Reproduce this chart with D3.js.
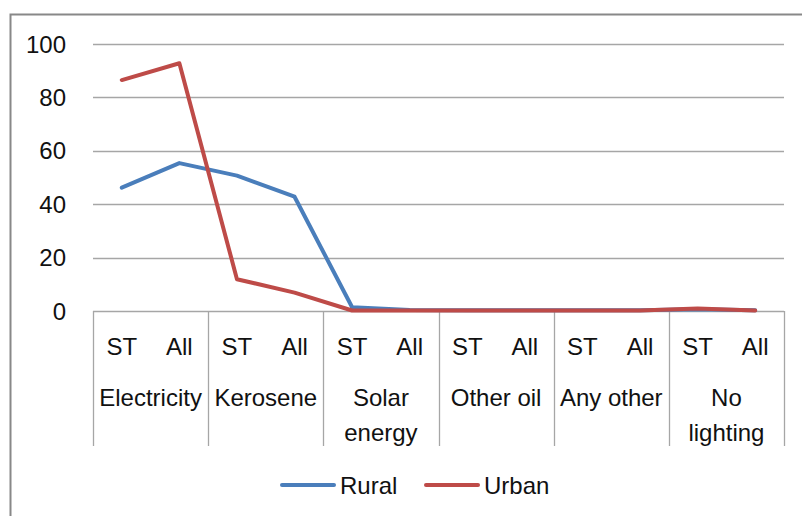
<!DOCTYPE html>
<html>
<head>
<meta charset="utf-8">
<script src="https://cdn.jsdelivr.net/npm/d3@7"></script>
<style>
  html, body { margin: 0; padding: 0; background: #fff; }
  svg text { font-family: "Liberation Sans", Arial, sans-serif; fill: #111; }
</style>
</head>
<body>
<svg id="chart" width="802" height="516"></svg>
<script>
// ---- data ----
const categories = ["Electricity", "Kerosene", "Solar energy", "Other oil", "Any other", "No lighting"];
const categoryLines = [["Electricity"], ["Kerosene"], ["Solar", "energy"], ["Other oil"], ["Any other"], ["No", "lighting"]];
const groups = ["ST", "All"];
const rural = [46.2, 55.4, 50.7, 42.8, 1.4, 0.4, 0.3, 0.3, 0.3, 0.3, 0.7, 0.3];
const urban = [86.5, 92.8, 11.9, 6.9, 0.2, 0.2, 0.2, 0.2, 0.2, 0.2, 0.9, 0.2];
const yTicks = [0, 20, 40, 60, 80, 100];
const seriesNames = ["Rural", "Urban"];
const seriesColors = ["#4A7EBB", "#BE4B48"];

(function () {
// ---- layout ----
const svg = d3.select("#chart");
const pLeft = 93, pRight = 784, pTop = 44, pBottom = 311;
const fontSize = 24;

svg.append("rect")
  .attr("x", 10.5).attr("y", 14.5)
  .attr("width", 800).attr("height", 510)
  .attr("fill", "#fff").attr("stroke", "#888").attr("stroke-width", 2);

const x = d3.scaleBand().domain(categories).range([pLeft, pRight]).padding(0);
const xi = d3.scalePoint().domain(groups).range([0, x.bandwidth()]).padding(0.5);
const y = d3.scaleLinear().domain([0, 100]).range([pBottom, pTop]);

// gridlines
svg.append("g").selectAll("line").data(yTicks).join("line")
  .attr("x1", pLeft).attr("x2", pRight)
  .attr("y1", d => Math.round(y(d)) + 0.5).attr("y2", d => Math.round(y(d)) + 0.5)
  .attr("stroke", "#a6a6a6").attr("stroke-width", 1.3);

// y tick labels
svg.append("g").selectAll("text").data(yTicks).join("text")
  .attr("x", 66).attr("y", d => y(d))
  .attr("dy", "0.36em")
  .attr("text-anchor", "end")
  .attr("font-size", fontSize)
  .text(d => d);

// category dividers
const bounds = categories.map(c => x(c)).concat([pRight]);
svg.append("g").selectAll("line").data(bounds).join("line")
  .attr("x1", d => Math.round(d) + 0.5).attr("x2", d => Math.round(d) + 0.5)
  .attr("y1", pBottom).attr("y2", 446)
  .attr("stroke", "#a6a6a6").attr("stroke-width", 1.3);

// sub labels
const subData = [];
categories.forEach(c => groups.forEach(g => subData.push({c, g})));
svg.append("g").selectAll("text").data(subData).join("text")
  .attr("x", d => x(d.c) + xi(d.g)).attr("y", 346)
  .attr("dy", "0.36em")
  .attr("text-anchor", "middle")
  .attr("font-size", fontSize)
  .text(d => d.g);

// category labels
const catG = svg.append("g").selectAll("text").data(categories).join("text")
  .attr("x", d => x(d) + x.bandwidth() / 2)
  .attr("y", 397)
  .attr("text-anchor", "middle")
  .attr("font-size", fontSize);
catG.selectAll("tspan").data((d, i) => categoryLines[i]).join("tspan")
  .attr("x", function() { return d3.select(this.parentNode).attr("x"); })
  .attr("y", (d, i) => 397 + i * 35)
  .attr("dy", "0.36em")
  .text(d => d);

// lines
const px = i => x(categories[Math.floor(i / 2)]) + xi(groups[i % 2]);
const line = d3.line().x((d, i) => px(i)).y(d => y(d));
[rural, urban].forEach((s, k) => {
  svg.append("path").datum(s)
    .attr("d", line)
    .attr("fill", "none")
    .attr("stroke", seriesColors[k])
    .attr("stroke-width", 4)
    .attr("stroke-linejoin", "round")
    .attr("stroke-linecap", "round");
});

// legend
const legX = [282, 426];
seriesNames.forEach((n, k) => {
  svg.append("line")
    .attr("x1", legX[k]).attr("x2", legX[k] + 52)
    .attr("y1", 485).attr("y2", 485)
    .attr("stroke", seriesColors[k]).attr("stroke-width", 4)
    .attr("stroke-linecap", "round");
  svg.append("text")
    .attr("x", legX[k] + 58).attr("y", 485)
    .attr("dy", "0.36em")
    .attr("font-size", fontSize)
    .text(n);
});
})();
</script>
</body>
</html>
